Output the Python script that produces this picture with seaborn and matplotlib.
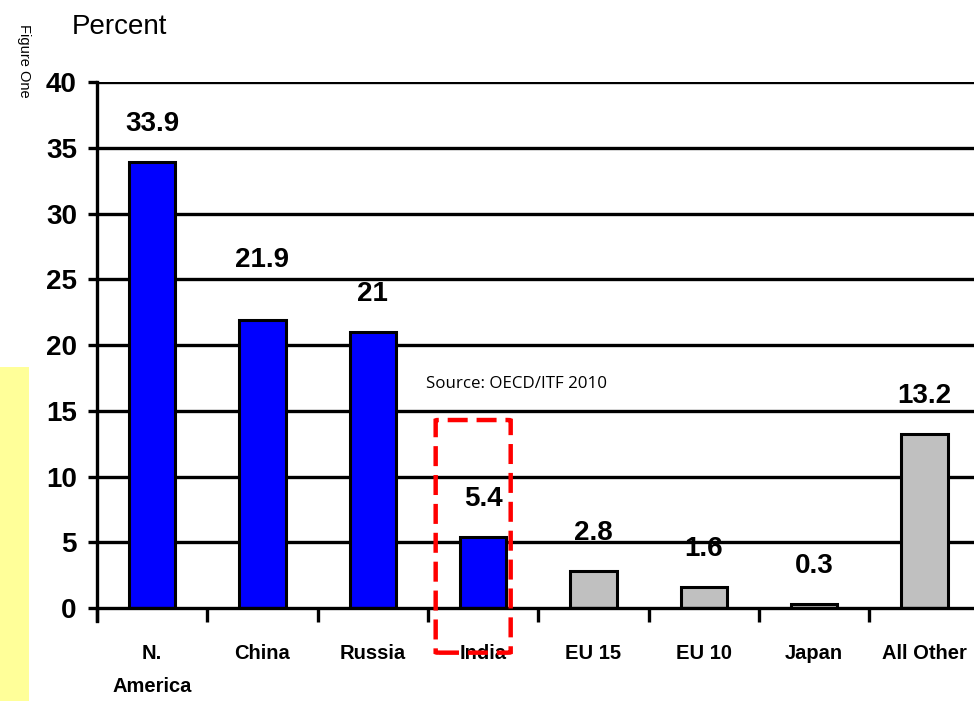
import pandas as pd
import matplotlib.pyplot as plt
import seaborn as sns
from matplotlib.patches import FancyBboxPatch, Rectangle

# data
regions = ['N.\nAmerica', 'China', 'Russia', 'India', 'EU 15', 'EU 10', 'Japan', 'All Other']
share = [33.9, 21.9, 21.0, 5.4, 2.8, 1.6, 0.3, 13.2]
value_labels = ['33.9', '21.9', '21', '5.4', '2.8', '1.6', '0.3', '13.2']
group = ['focus', 'focus', 'focus', 'focus', 'other', 'other', 'other', 'other']

data = pd.DataFrame({'region': regions, 'share': share, 'group': group})

sns.set_style("white")
plt.rcParams['font.family'] = ['Liberation Sans', 'DejaVu Sans']
plt.rcParams['text.color'] = 'black'
plt.rcParams['xtick.color'] = 'black'
plt.rcParams['ytick.color'] = 'black'

fig = plt.figure(figsize=(9.74, 7.01), dpi=100)
ax = fig.add_axes([0.0996, 0.1327, 0.9004, 0.750])

sns.barplot(x='region', y='share', hue='group', data=data, dodge=False,
            palette={'focus': '#0000FF', 'other': '#C0C0C0'}, saturation=1,
            edgecolor='black', linewidth=2.2, width=0.42, legend=False, ax=ax)

ax.set_xlim(-0.5, 7.45)
ax.set_ylim(0, 40)
ax.set_yticks(range(0, 41, 5))
ax.set_xlabel('')
ax.set_ylabel('')

# thick horizontal rules
for v in range(5, 41, 5):
    ax.axhline(v, color='black', lw=2.4, zorder=0)
ax.axhline(0, color='black', lw=2.4, zorder=3, clip_on=False)

for s in ['top', 'right', 'bottom']:
    ax.spines[s].set_visible(False)
ax.spines['left'].set_linewidth(2.4)
ax.spines['left'].set_color('black')
ax.spines['left'].set_bounds(-1.0, 40)

ax.tick_params(axis='y', length=6.5, width=2.4, pad=8, labelsize=20, left=True)
for t in ax.get_yticklabels():
    t.set_fontweight('bold')

ax.set_xticks([i + 0.5 for i in range(-1, 7)], minor=True)
ax.tick_params(axis='x', which='minor', length=10, width=2.4, bottom=True, direction='out')
ax.tick_params(axis='x', which='major', length=0, pad=26, labelsize=14.5)
for t in ax.get_xticklabels():
    t.set_fontweight('bold')
    t.set_linespacing(1.95)

# value labels
for i, (v, lab) in enumerate(zip(share, value_labels)):
    off = 34 if i == 1 else 18
    ax.annotate(lab, (i, v), xytext=(0, off), textcoords='offset points',
                ha='center', va='bottom', fontsize=20, fontweight='bold')

fig.text(0.074, 0.961, 'Percent', fontsize=20, ha='left', va='center')
fig.text(0.025, 0.913, 'Figure One', fontsize=10.5, rotation=-90, ha='center', va='center')
fig.patches.append(Rectangle((0, 0), 0.030, 0.477, transform=fig.transFigure,
                             facecolor='#FFFF99', edgecolor='none'))

fig.text(0.437, 0.452, 'Source: OECD/ITF 2010', fontsize=12.2,
         family=['Open Sans', 'DejaVu Sans'], ha='left', va='center')

# red dashed highlight around India
ax.add_patch(FancyBboxPatch((3 - 0.43, -3.4), 0.68, 17.7,
                            boxstyle='round,pad=0,rounding_size=0.03',
                            fill=False, edgecolor='#FF0000', lw=3.2,
                            linestyle=(0, (4.5, 2)), clip_on=False, zorder=5))

fig.savefig('out.png', dpi=100)
